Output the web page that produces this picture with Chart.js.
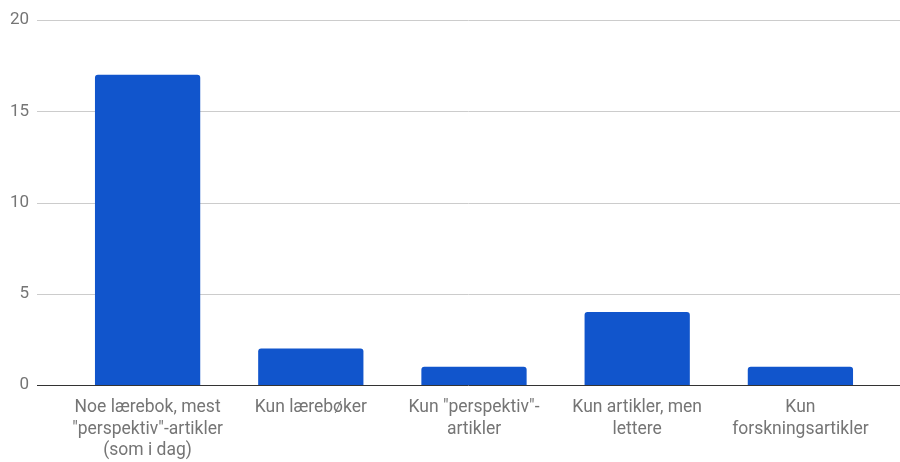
<!DOCTYPE html>
<html>
<head>
<meta charset="utf-8">
<script src="https://cdn.jsdelivr.net/npm/chart.js@4/dist/chart.umd.min.js"></script>
<style>
  html, body { margin: 0; padding: 0; background: #fff; }
  #wrap { width: 900px; height: 462px; }
</style>
</head>
<body>
<div id="wrap"><canvas id="chart"></canvas></div>
<script>
const categories = [
  ['Noe lærebok, mest', '"perspektiv"-artikler', '(som i dag)'],
  ['Kun lærebøker'],
  ['Kun "perspektiv"-', 'artikler'],
  ['Kun artikler, men', 'lettere'],
  ['Kun', 'forskningsartikler']
];
const counts = [17, 2, 1, 4, 1];
const yTicks = [0, 5, 10, 15, 20];

// gridlines run wider than the category band, like the original
const wideGrid = {
  id: 'wideGrid',
  beforeDatasetsDraw(chart) {
    const ctx = chart.ctx;
    const y = chart.scales.y;
    ctx.save();
    yTicks.forEach(v => {
      const py = Math.round(y.getPixelForValue(v)) + 0.5;
      ctx.beginPath();
      ctx.strokeStyle = v === 0 ? '#333333' : '#cccccc';
      ctx.lineWidth = 1;
      ctx.moveTo(37, py);
      ctx.lineTo(900, py);
      ctx.stroke();
    });
    ctx.restore();
  }
};

new Chart(document.getElementById('chart'), {
  type: 'bar',
  data: {
    labels: categories,
    datasets: [{
      data: counts,
      backgroundColor: '#1155cc',
      borderRadius: { topLeft: 3, topRight: 3 },
      borderSkipped: 'bottom',
      categoryPercentage: 1,
      barPercentage: 0.645
    }]
  },
  options: {
    responsive: true,
    maintainAspectRatio: false,
    animation: false,
    layout: { padding: { top: 0, right: 18, left: 0, bottom: 0 } },
    plugins: {
      legend: { display: false },
      tooltip: { enabled: false }
    },
    scales: {
      x: {
        grid: { display: false },
        border: { display: false },
        ticks: {
          color: '#757575',
          font: { family: 'Roboto', size: 17.5, lineHeight: 1.23 },
          maxRotation: 0,
          autoSkip: false,
          padding: 4
        },
        afterFit(scale) { scale.height = 77; }
      },
      y: {
        min: 0,
        max: 20,
        afterBuildTicks(scale) { scale.ticks = yTicks.map(v => ({ value: v })); },
        grid: { display: false, drawTicks: false },
        border: { display: false },
        ticks: {
          color: '#757575',
          font: { family: 'Roboto', size: 17 },
          padding: 37
        },
        afterFit(scale) {
          scale.width = 66;
          scale.paddingTop = 20;
          scale.paddingBottom = 0;
        }
      }
    }
  },
  plugins: [wideGrid]
});
</script>
</body>
</html>
